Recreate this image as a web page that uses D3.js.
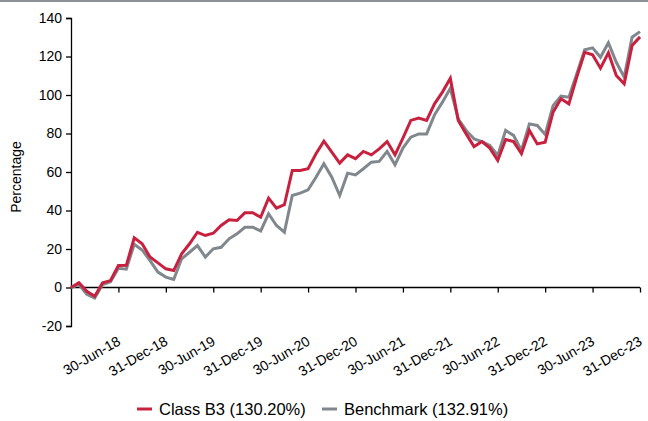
<!DOCTYPE html>
<html lang="en">
<head>
<meta charset="utf-8">
<title>Class B3 vs Benchmark</title>
<script src="https://cdn.jsdelivr.net/npm/d3@7"></script>
<style>
  body { margin: 0; background: #fff; }
  text { font-family: "Liberation Sans", Arial, sans-serif; fill: #000; }
</style>
</head>
<body>
<script>
// month-end values, 31-Dec-17 .. 31-Dec-23 (73 months)
var classB3 = [0, 2.5, -2, -4.5, 2.4, 3.6, 11.4, 11.5, 25.8, 22.7, 15.8, 12.8,
  9.7, 8.8, 17.5, 22.7, 28.7, 27, 28.2, 32.2, 35.2, 34.8, 38.8, 38.8,
  36.5, 46.4, 41.2, 43, 60.8, 60.8, 61.7, 69.5, 76, 70.3, 64.6, 68.9,
  66.9, 70.7, 68.9, 72, 75.8, 68.9, 77.6, 86.8, 88, 86.8, 95.4, 101.5,
  108.7, 86.8, 79.8, 73.2, 75.8, 72.4, 66, 76.9, 75.8, 69.5, 81.6, 74.6,
  75.5, 91.1, 98, 95.4, 109.3, 122.2, 120.9, 113.9, 121.9, 110.1, 105.8, 125.7,
  130.2];
var benchmark = [0, 1.5, -3.5, -5.5, 1.5, 3, 10, 9.5, 22.5, 19.5, 14, 8,
  5.4, 4.2, 14.9, 18.3, 21.8, 15.8, 20.1, 20.9, 25.3, 27.9, 31.3, 31.3,
  29.4, 38.3, 32.2, 28.7, 47.8, 49, 50.7, 57.3, 64.3, 57.3, 47.8, 59.4,
  58.5, 61.7, 65.1, 65.5, 70.7, 63.7, 72.4, 78.1, 79.8, 79.8, 89.7, 96.3,
  103.5, 87.6, 81.6, 77.2, 75.8, 73.8, 68.6, 81.6, 79, 71.2, 85, 84.2,
  79.5, 94.5, 99.4, 98.9, 111, 123.5, 124.5, 119.6, 127.1, 117, 109.3, 130,
  132.91];
var tickMonths = [6, 12, 18, 24, 30, 36, 42, 48, 54, 60, 66, 72];
var tickLabels = ["30-Jun-18", "31-Dec-18", "30-Jun-19", "31-Dec-19", "30-Jun-20", "31-Dec-20",
  "30-Jun-21", "31-Dec-21", "30-Jun-22", "31-Dec-22", "30-Jun-23", "31-Dec-23"];
var yTicks = [-20, 0, 20, 40, 60, 80, 100, 120, 140];
var seriesNames = ["Class B3 (130.20%)", "Benchmark (132.91%)"];
var seriesColors = ["#c8203f", "#80878d"];

var width = 648, height = 421;

var svg = d3.select("body").append("svg")
  .attr("width", width)
  .attr("height", height);

// thin rule along the top edge
svg.append("rect").attr("x", 0).attr("y", 0).attr("width", width).attr("height", 2)
  .attr("fill", "#8c9196");

var x = d3.scaleLinear().domain([0, classB3.length - 1]).range([71, 640]);
var y = d3.scaleLinear().domain([-20, 140]).range([326, 18]);

// y axis
var yAxis = svg.append("g")
  .attr("transform", "translate(71,0)")
  .call(d3.axisLeft(y).tickValues(yTicks).tickSize(5).tickPadding(4)
    .tickFormat(function(d) { return String(d); }));
yAxis.select(".domain").attr("stroke", "#000").attr("stroke-width", 1.3);
yAxis.selectAll(".tick line").attr("stroke", "#000").attr("stroke-width", 1.3);
yAxis.selectAll("text").attr("font-size", 14).style("font-family", "Liberation Sans, Arial, sans-serif");

// x axis crossing at zero
var xAxis = svg.append("g")
  .attr("transform", "translate(0," + y(0) + ")")
  .call(d3.axisBottom(x).tickValues(tickMonths).tickSize(5).tickFormat(""));
xAxis.select(".domain").attr("stroke", "#000").attr("stroke-width", 1.3)
  .attr("d", "M" + x(0) + ",0H" + x(72));
xAxis.selectAll(".tick line").attr("stroke", "#000").attr("stroke-width", 1.3);

// x tick labels sit below the plot
svg.append("g").selectAll("text")
  .data(tickMonths)
  .enter()
  .append("text")
  .attr("transform", function(d) { return "translate(" + (x(d) + 3) + ",344) rotate(-30)"; })
  .attr("text-anchor", "end")
  .attr("font-size", 14)
  .text(function(d, i) { return tickLabels[i]; });

svg.append("text")
  .attr("transform", "translate(21,177) rotate(-90)")
  .attr("text-anchor", "middle")
  .attr("font-size", 14)
  .text("Percentage");

var line = d3.line()
  .x(function(d, i) { return x(i); })
  .y(function(d) { return y(d); });

[benchmark, classB3].forEach(function(s, k) {
  svg.append("path")
    .attr("d", line(s))
    .attr("fill", "none")
    .attr("stroke", seriesColors[1 - k])
    .attr("stroke-width", 3)
    .attr("stroke-linejoin", "miter");
});

// legend
var legendX = [137, 322];
seriesNames.forEach(function(n, i) {
  svg.append("line")
    .attr("x1", legendX[i]).attr("x2", legendX[i] + 15)
    .attr("y1", 409).attr("y2", 409)
    .attr("stroke", seriesColors[i]).attr("stroke-width", 3);
  svg.append("text")
    .attr("x", legendX[i] + 22).attr("y", 415)
    .attr("font-size", 16.5)
    .text(n);
});
</script>
</body>
</html>
